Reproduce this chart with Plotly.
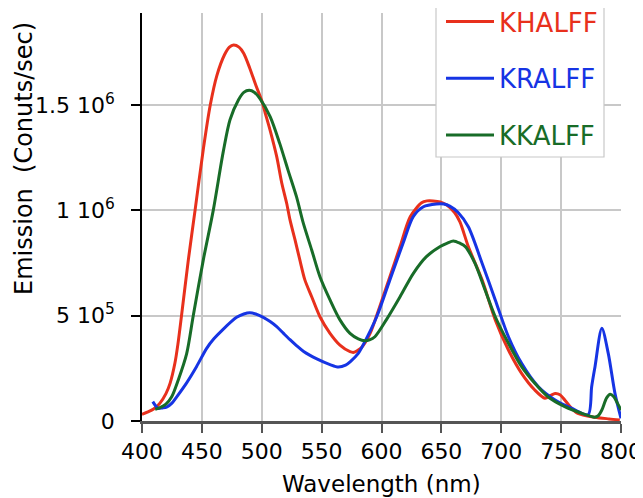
import plotly.graph_objects as go

# ---------------- data ----------------
khalff_nm = [400, 405, 410, 415, 420, 423.5, 427.5, 430, 433, 438.7, 444.3, 451.2, 457, 462.5, 469, 473, 476.5,
             481, 485, 490, 495, 500, 503, 507, 512.5, 516.7, 520.8, 523.6, 527.8, 532, 536, 541.7, 548.6, 557,
             565.3, 573.7, 577, 580, 583.5, 590.5, 598.5, 607, 615.5, 624, 633.5, 638, 643, 649, 654.5, 661,
             665.5, 672.5, 684, 695, 706, 717, 728, 736.5, 741, 745, 749, 753, 758, 764, 778, 790, 799]
khalff_val = [3.2e4, 4.3e4, 5.8e4, 8.5e4, 1.3e5, 1.8e5, 2.75e5, 3.65e5, 5.0e5, 7.65e5, 1.0e6, 1.29e6, 1.5e6,
              1.64e6, 1.74e6, 1.775e6, 1.785e6, 1.775e6, 1.745e6, 1.675e6, 1.595e6, 1.52e6, 1.46e6, 1.38e6,
              1.255e6, 1.13e6, 1.034e6, 9.55e5, 8.6e5, 7.6e5, 6.7e5, 5.9e5, 4.95e5, 4.16e5, 3.6e5, 3.29e5,
              3.26e5, 3.35e5, 3.5e5, 4.16e5, 5.43e5, 6.85e5, 8.28e5, 9.7e5, 1.036e6, 1.045e6, 1.045e6, 1.04e6,
              1.025e6, 9.9e5, 9.45e5, 8.28e5, 6.7e5, 4.8e5, 3.37e5, 2.26e5, 1.47e5, 1.08e5, 1.2e5, 1.31e5,
              1.25e5, 1.0e5, 6.5e4, 3.6e4, 1.8e4, 1.0e4, 5e3]

kralff_nm = [409, 411, 413.5, 417, 420.5, 425, 429, 437, 445.5, 454, 460, 467.5, 479, 485, 490, 495, 501.3, 507,
             512.5, 518, 523.6, 529, 535, 546, 557, 564, 570, 574, 580.6, 585, 596, 607, 618, 626.5, 635, 646,
             652, 657, 664, 672.5, 684, 695, 706, 717, 731, 745, 759, 772.5, 775.5, 778.3, 784, 789.4, 795, 800]
kralff_val = [9.2e4, 7.5e4, 6.0e4, 6.2e4, 6.6e4, 8.5e4, 1.15e5, 1.79e5, 2.58e5, 3.45e5, 3.9e5, 4.34e5, 4.92e5,
              5.08e5, 5.14e5, 5.08e5, 4.92e5, 4.72e5, 4.48e5, 4.17e5, 3.86e5, 3.58e5, 3.3e5, 2.95e5, 2.68e5,
              2.56e5, 2.65e5, 2.82e5, 3.21e5, 3.65e5, 4.95e5, 6.7e5, 8.44e5, 9.7e5, 1.017e6, 1.03e6, 1.03e6,
              1.02e6, 9.9e5, 9.22e5, 7.49e5, 5.75e5, 4.0e5, 2.74e5, 1.63e5, 1.0e5, 6.0e4, 3.0e4, 1.63e5, 2.58e5,
              4.4e5, 3.2e5, 1.3e5, 1.3e4]

kkalff_nm = [411, 415, 420, 424.8, 430.3, 437.3, 442.8, 451.2, 459.5, 467.9, 473.5, 480.5, 485, 489.5, 494, 498.5,
             507, 515, 522, 529, 534.7, 541.7, 548.6, 557, 565.3, 573.7, 580.6, 586, 590, 594.5, 604, 615.5,
             626.5, 637.5, 649, 655, 660, 665.5, 670, 678, 686.5, 695, 706, 717, 728, 739, 753, 767, 778, 781,
             784, 788, 791, 794, 797, 800]
kkalff_val = [5.5e4, 6.3e4, 8.0e4, 1.15e5, 1.95e5, 3.2e5, 5.0e5, 7.65e5, 1.0e6, 1.28e6, 1.43e6, 1.524e6, 1.56e6,
              1.57e6, 1.56e6, 1.53e6, 1.445e6, 1.318e6, 1.19e6, 1.065e6, 9.39e5, 8.12e5, 6.85e5, 5.75e5, 4.8e5,
              4.16e5, 3.9e5, 3.81e5, 3.85e5, 4.0e5, 4.8e5, 5.9e5, 7.0e5, 7.8e5, 8.28e5, 8.45e5, 8.55e5, 8.44e5,
              8.28e5, 7.49e5, 6.22e5, 4.95e5, 3.69e5, 2.58e5, 1.79e5, 1.15e5, 6.8e4, 3.7e4, 1.8e4, 2.5e4, 5.2e4,
              1.1e5, 1.27e5, 1.15e5, 8.5e4, 5.2e4]

series_names = ["KHALFF", "KRALFF", "KKALFF"]
series_colors = ["rgb(232,48,28)", "rgb(22,52,228)", "rgb(24,108,40)"]

x_ticks = [400, 450, 500, 550, 600, 650, 700, 750, 800]
y_ticks = [0, 5e5, 1e6, 1.5e6]
y_ticktext = ["0", "5 10<sup>5</sup>", "1 10<sup>6</sup>", "1.5 10<sup>6</sup>"]

# ---------------- figure ----------------
fig = go.Figure()
for nm, val, name, col in zip([khalff_nm, kralff_nm, kkalff_nm],
                              [khalff_val, kralff_val, kkalff_val],
                              series_names, series_colors):
    fig.add_trace(go.Scatter(
        x=nm, y=val, mode="lines", line=dict(color=col, width=3, shape="spline", smoothing=0.8),
        name=f'<span style="color:{col}">{name}</span>', legendgroup=name,
    ))

# page body has an 8px margin, so work in reference pixels minus 8
OFF = 8
FW, FH = 643 - OFF, 498 - OFF
L, R, T, B = 142 - OFF, 621 - OFF, 13 - OFF, 421 - OFF
W, H = R - L, B - T

def px(x):
    return (x - OFF - L) / W

def py(y):
    return (B - (y - OFF)) / H

fig.update_layout(
    width=FW, height=FH,
    margin=dict(l=L, r=FW - R, t=T, b=FH - B, autoexpand=False),
    plot_bgcolor="white", paper_bgcolor="white",
    font=dict(family="DejaVu Sans", size=22, color="black"),
    showlegend=True,
    legend=dict(x=px(441), y=py(-2), xanchor="left", yanchor="top",
                bgcolor="rgba(0,0,0,0)", borderwidth=0,
                font=dict(size=26), tracegroupgap=20, itemwidth=48),
    xaxis=dict(range=[400, 800], tickvals=x_ticks, showgrid=True, gridcolor="#c8c8c8", gridwidth=1.5,
               showline=True, linecolor="#555555", linewidth=2.5, ticks="outside", ticklen=9,
               tickwidth=1.5, tickcolor="#555555", zeroline=False, tickfont=dict(size=22),
               ticklabelstandoff=0),
    yaxis=dict(range=[0, 1.937e6], tickvals=y_ticks, ticktext=y_ticktext, showgrid=True,
               gridcolor="#c8c8c8", gridwidth=1.5, showline=True, linecolor="black", linewidth=1.5,
               ticks="outside", ticklen=9, tickwidth=1.5, tickcolor="black", zeroline=False,
               tickfont=dict(size=22), ticklabelstandoff=12),
    shapes=[dict(type="rect", xref="paper", yref="paper", x0=px(436), x1=px(604), y0=py(157), y1=1.1,
                 line=dict(color="#c8c8c8", width=1.2), fillcolor="white", layer="above")],
    annotations=[
        dict(text="Wavelength (nm)", xref="paper", yref="paper", x=0.5, y=py(484), xanchor="center",
             yanchor="middle", showarrow=False, font=dict(size=23)),
        dict(text="Emission&nbsp; (Conuts/sec)", xref="paper", yref="paper", x=px(24), y=py(159),
             xanchor="center", yanchor="middle", textangle=-90, showarrow=False, font=dict(size=24)),
    ],
)

fig.write_html("out.html")
